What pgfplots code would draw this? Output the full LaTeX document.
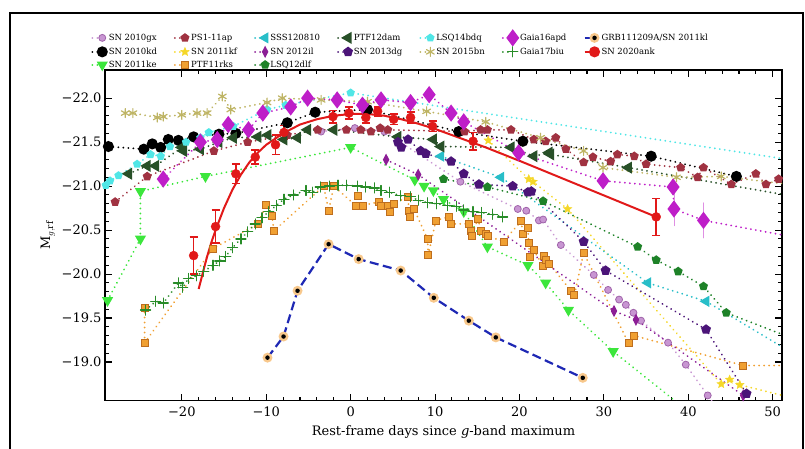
\documentclass[border=0pt]{standalone}
\usepackage{fontspec}
\setmainfont{DejaVu Serif}
\usepackage{pgfplots}
\pgfplotsset{compat=1.18}
\usetikzlibrary{plotmarks}

\definecolor{cgx}{RGB}{200,150,210}
\definecolor{cgxd}{RGB}{160,100,170}
\definecolor{ckd}{RGB}{0,0,0}
\definecolor{cke}{RGB}{60,230,60}
\definecolor{cap}{RGB}{160,50,65}
\definecolor{ckf}{RGB}{245,215,40}
\definecolor{crks}{RGB}{240,160,50}
\definecolor{crksd}{RGB}{190,110,30}
\definecolor{csss}{RGB}{40,190,200}
\definecolor{cil}{RGB}{140,30,150}
\definecolor{cdlf}{RGB}{30,130,40}
\definecolor{cdam}{RGB}{40,80,40}
\definecolor{cdg}{RGB}{75,20,120}
\definecolor{cbdq}{RGB}{80,230,230}
\definecolor{cbn}{RGB}{190,180,100}
\definecolor{capd}{RGB}{190,30,200}
\definecolor{cbiu}{RGB}{40,140,40}
\definecolor{cgrb}{RGB}{30,40,180}
\definecolor{cglow}{RGB}{248,200,140}
\definecolor{cank}{RGB}{225,25,25}

\pgfdeclareplotmark{fstar}{%
 \pgfpathmoveto{\pgfpointpolar{90}{\pgfplotmarksize}}%
 \pgfpathlineto{\pgfpointpolar{126}{0.45\pgfplotmarksize}}%
 \pgfpathlineto{\pgfpointpolar{162}{\pgfplotmarksize}}%
 \pgfpathlineto{\pgfpointpolar{198}{0.45\pgfplotmarksize}}%
 \pgfpathlineto{\pgfpointpolar{234}{\pgfplotmarksize}}%
 \pgfpathlineto{\pgfpointpolar{270}{0.45\pgfplotmarksize}}%
 \pgfpathlineto{\pgfpointpolar{306}{\pgfplotmarksize}}%
 \pgfpathlineto{\pgfpointpolar{342}{0.45\pgfplotmarksize}}%
 \pgfpathlineto{\pgfpointpolar{18}{\pgfplotmarksize}}%
 \pgfpathlineto{\pgfpointpolar{54}{0.45\pgfplotmarksize}}%
 \pgfpathclose\pgfusepathqfillstroke}

\pgfdeclareplotmark{grbmark}{%
 \pgfsetfillcolor{cglow}%
 \pgfpathcircle{\pgfpointorigin}{1.0\pgfplotmarksize}%
 \pgfusepathqfill
 \pgfsetfillcolor{black}%
 \pgfpathcircle{\pgfpointorigin}{0.45\pgfplotmarksize}%
 \pgfusepathqfill}

\tikzset{
 dotl/.style={line width=2pt, line cap=round, dash pattern=on 0.01pt off 5pt},
 sgx/.style={color=cgx, dotl, mark=*, mark size=3.5pt, mark options={solid, fill=cgx, draw=cgxd, line width=0.8pt}},
 skd/.style={color=ckd, dotl, mark=*, mark size=4.5pt, mark options={solid, fill=black}},
 ske/.style={color=cke, dotl, mark=triangle*, mark size=4.5pt, mark options={solid, rotate=180, fill=cke}},
 sap/.style={color=cap, dotl, mark=pentagon*, mark size=3.5pt, mark options={solid, fill=cap}},
 skf/.style={color=ckf, dotl, mark=fstar, mark size=4.5pt, mark options={solid, fill=ckf, line width=0.4pt}},
 srks/.style={color=crks, dotl, mark=square*, mark size=3.5pt, mark options={solid, fill=crks, draw=crksd, line width=0.7pt}},
 ssss/.style={color=csss, dotl, mark=triangle*, mark size=4.5pt, mark options={solid, rotate=90, fill=csss}},
 sil/.style={color=cil, dotl, mark=diamond*, mark size=4pt, mark options={solid, fill=cil, xscale=0.7}},
 sdlf/.style={color=cdlf, dotl, mark=pentagon*, mark size=3.5pt, mark options={solid, fill=cdlf}},
 sdam/.style={color=cdam, dotl, mark=triangle*, mark size=5pt, mark options={solid, rotate=90, fill=cdam}},
 sdg/.style={color=cdg, dotl, mark=pentagon*, mark size=4pt, mark options={solid, fill=cdg}},
 sbdq/.style={color=cbdq, dotl, mark=pentagon*, mark size=3.2pt, mark options={solid, fill=cbdq}},
 sbn/.style={color=cbn, dotl, mark=asterisk, mark size=4.5pt, mark options={solid, line width=1.2pt}},
 sapd/.style={color=capd, dotl, mark=diamond*, mark size=7pt, mark options={solid, fill=capd}},
 sbiu/.style={color=cbiu, dotl, mark=+, mark size=5pt, mark options={solid, line width=1.3pt}},
 sgrb/.style={color=cgrb, line width=2.2pt, dash pattern=on 9pt off 4.5pt, mark=grbmark, mark size=5pt, mark options={solid}},
 sank/.style={color=cank, line width=2pt, mark=*, mark size=4.5pt, mark options={solid, fill=cank}},
}

\begin{document}
\begin{tikzpicture}
\useasboundingbox (-105pt,-47.3pt) rectangle (700pt,400.7pt);
\begin{axis}[
 at={(0pt,0pt)}, anchor=south west,
 width=677pt, height=330.7pt, scale only axis,
 xmin=-29.1, xmax=51.1, ymin=-22.32, ymax=-18.56, y dir=reverse,
 xtick={-20,-10,0,10,20,30,40,50},
 xticklabels={−20,−10,0,10,20,30,40,50},
 ytick={-22,-21.5,-21,-20.5,-20,-19.5,-19},
 yticklabels={−22.0,−21.5,−21.0,−20.5,−20.0,−19.5,−19.0},
 minor x tick num=4, minor y tick num=4,
 tick align=inside,
 major tick length=7pt, minor tick length=4pt,
 every tick/.style={black, line width=1.1pt},
 axis line style={line width=1.5pt},
 tick label style={font=\fontsize{13}{15}\selectfont},
 xticklabel style={yshift=-3pt},
 label style={font=\fontsize{13}{15}\selectfont},
 xlabel={Rest-frame days since \textit{g}-band maximum},
 ylabel={M$_{g,\mathrm{rf}}$},
 xlabel style={yshift=-2pt},
 legend style={at={(-0.025,1.125)}, anchor=north west, draw=none, fill=none,
   font=\fontsize{8.5}{10}\selectfont,
   /tikz/every even column/.append style={column sep=15pt}, row sep=1pt},
 legend cell align=left, transpose legend, legend columns=3,
 legend image code/.code={\draw[mark repeat=2,mark phase=2,#1] plot coordinates {(0pt,0pt) (10pt,0pt)};},
]
% SN 2010gx
\addplot[sgx, forget plot] coordinates {(-3.5,-21.62) (0.5,-21.66) (4,-21.62) (13,-21.05) (19.8,-20.74) (20.8,-20.72) (22.3,-20.61) (22.8,-20.62) (24.9,-20.33) (28.8,-19.99) (30.5,-19.82) (31.8,-19.71) (32.6,-19.65) (33.5,-19.56) (34.4,-19.47) (37.6,-19.22) (39.7,-18.97) (42.3,-18.62) (44,-18.4)};
% SN 2010kd
\addplot[skd, forget plot] coordinates {(-28.7,-21.45) (-24.5,-21.42) (-23.5,-21.48) (-22.5,-21.44) (-21.6,-21.53) (-20.4,-21.52) (-18.6,-21.56) (-15.6,-21.59) (-13.6,-21.60) (-7.5,-21.72) (-4.2,-21.84) (2,-21.87) (12.8,-21.62) (20.4,-21.51) (35.6,-21.34) (45.7,-21.11)};
% SN 2011ke
\addplot[ske, forget plot] coordinates {(-28.8,-19.70) (-24.9,-20.40) (-24.9,-20.94) (-17.2,-21.11) (0.0,-21.44) (7.6,-21.07) (8.7,-21.0) (9.8,-20.95) (11.0,-20.85) (13.4,-20.71) (16.2,-20.31) (21.0,-20.10) (23.1,-19.90) (25.8,-19.59) (31.1,-19.12) (40.5,-18.40)};
% PS1-11ap
\addplot[sap, forget plot] coordinates {(-27.9,-20.82) (-24.1,-21.11) (-16.2,-21.40) (-12.2,-21.50) (-7.5,-21.58) (-3.9,-21.64) (-0.5,-21.64) (1.2,-21.64) (2.4,-21.62) (3.5,-21.66) (4.4,-21.64) (13.5,-21.62) (15.4,-21.64) (16.2,-21.64) (19,-21.64) (21.7,-21.53) (23.1,-21.51) (24.3,-21.55) (25.5,-21.42) (27.6,-21.27) (28.7,-21.33) (30.8,-21.28) (31.6,-21.36) (33.6,-21.34) (35,-21.25) (39.1,-21.21) (41.1,-21.10) (41.8,-21.21) (45.1,-21.02) (48,-21.14) (49.2,-21.02) (50.7,-21.08)};
% SN 2011kf
\addplot[skf, forget plot] coordinates {(16.3,-21.52) (21.1,-21.08) (21.6,-21.05) (25.7,-20.74) (43.9,-18.75) (44.9,-18.80) (46.1,-18.74) (52,-18.6)};
% PTF11rks
\addplot[srks, forget plot] coordinates {(-24.4,-19.62) (-24.4,-19.22) (-16.3,-20.29) (-11.0,-20.57) (-10.0,-20.79) (-9.3,-20.66) (-9.1,-20.49) (-3.2,-21.00) (-2.6,-20.72) (-2.0,-21.00) (0.6,-20.78) (0.8,-20.89) (1.4,-20.78) (3.3,-20.82) (3.6,-20.77) (4.4,-20.78) (4.7,-20.71) (5.1,-20.80) (6.8,-20.88) (6.9,-20.72) (7.0,-20.65) (7.5,-20.74) (9.1,-20.40) (9.2,-20.22) (10.1,-20.61) (11.6,-20.65) (11.9,-20.57) (14.0,-20.57) (14.2,-20.49) (14.3,-20.43) (15.1,-20.63) (15.4,-20.49) (16.0,-20.46) (16.3,-20.43) (18.1,-20.37) (20.2,-20.60) (20.4,-20.46) (21.0,-20.52) (21.1,-20.35) (21.2,-20.20) (21.7,-20.27) (22.8,-20.09) (22.9,-20.21) (23.1,-20.16) (23.5,-20.12) (26.1,-19.81) (26.5,-19.76) (27.6,-20.24) (32.9,-19.22) (33.6,-19.30) (46.5,-18.96) (52,-18.96)};
% SSS120810
\addplot[ssss, forget plot] coordinates {(10.7,-21.34) (17.8,-21.10) (35.2,-19.90) (42.1,-19.69) (51.5,-19.15)};
% SN 2012il
\addplot[sil, forget plot] coordinates {(4.2,-21.30) (8.0,-21.13) (31.2,-19.58) (33.8,-19.48) (46.5,-18.62)};
% LSQ12dlf
\addplot[sdlf, forget plot] coordinates {(11.0,-21.08) (16.2,-20.99) (22.8,-20.83) (34.0,-20.31) (36.2,-20.16) (38.8,-20.03) (41.8,-19.86) (44.5,-19.56) (51.5,-19.30)};
% PTF12dam
\addplot[sdam, forget plot] coordinates {(-26.3,-21.14) (-24.1,-21.23) (-23.1,-21.23) (-20.0,-21.44) (-19.8,-21.40) (-17.8,-21.42) (-15.6,-21.50) (-13.9,-21.55) (-11.0,-21.56) (-9.8,-21.58) (-7.9,-21.53) (-6.3,-21.55) (-5.1,-21.64) (-2.0,-21.64) (5.6,-21.56) (9.8,-21.53) (10.7,-21.45) (19.0,-21.44) (21.7,-21.34) (23.5,-21.38) (23.7,-21.36) (32.9,-21.21) (51.5,-20.90)};
% SN 2013dg
\addplot[sdg, forget plot] coordinates {(5.6,-21.50) (6.0,-21.44) (6.8,-21.53) (8.3,-21.40) (8.9,-21.37) (11.9,-21.28) (13.4,-21.14) (15.2,-21.02) (19.2,-21.00) (21.0,-20.93) (21.4,-20.94) (27.6,-20.37) (30.2,-20.04) (42.1,-19.37) (46.9,-18.64)};
% LSQ14bdq
\addplot[sbdq, forget plot] coordinates {(-29.0,-21.01) (-28.5,-21.06) (-27.5,-21.12) (-25.3,-21.25) (-23.7,-21.36) (-22.5,-21.34) (-21.4,-21.45) (-19.5,-21.50) (-17.8,-21.55) (-16.8,-21.61) (-13.9,-21.68) (-9.9,-21.87) (-7.7,-21.92) (0,-22.06) (52,-21.30)};
% SN 2015bn
\addplot[sbn, forget plot] coordinates {(-26.7,-21.83) (-25.8,-21.83) (-22.9,-21.78) (-22.2,-21.79) (-20.0,-21.81) (-18.2,-21.83) (-17.0,-21.83) (-15.2,-22.02) (-14.2,-21.87) (-9.9,-21.95) (-8.1,-22.00) (-3.5,-21.98) (2.0,-21.96) (9.0,-21.85) (16.0,-21.73) (22.5,-21.55) (27.6,-21.40) (29.9,-21.21) (38.6,-21.10) (43.9,-21.11) (52,-21.02)};
% Gaia16apd
\addplot[sapd, forget plot, error bars/.cd, y dir=both, y explicit, error mark=none, error bar style={solid, line width=0.8pt, capd!50}] coordinates {(-22.2,-21.08)+-(0,0.05) (-17.8,-21.50)+-(0,0.04) (-15.8,-21.53)+-(0,0.04) (-14.5,-21.70)+-(0,0.04) (-12.1,-21.64)+-(0,0.04) (-10.4,-21.83)+-(0,0.04) (-7.1,-21.90)+-(0,0.04) (-5.1,-22.00)+-(0,0.04) (-1.6,-21.98)+-(0,0.04) (1.4,-21.92)+-(0,0.04) (3.6,-21.98)+-(0,0.04) (7.1,-21.95)+-(0,0.04) (9.3,-22.04)+-(0,0.04) (11.9,-21.83)+-(0,0.05) (13.4,-21.73)+-(0,0.05) (19.9,-21.38)+-(0,0.06) (29.9,-21.06)+-(0,0.06) (38.2,-20.99)+-(0,0.08) (38.3,-20.74)+-(0,0.19) (41.8,-20.61)+-(0,0.2) (52,-20.43)+-(0,0)};
% Gaia17biu
\addplot[sbiu, forget plot] coordinates {(-24.3,-19.59) (-23.1,-19.69) (-22.2,-19.67) (-20.4,-19.90) (-19.9,-19.85) (-19.2,-19.95) (-18.3,-19.98) (-17.4,-20.03) (-16.3,-20.10) (-15.5,-20.15) (-14.8,-20.20) (-14.0,-20.30) (-13.0,-20.40) (-12.2,-20.48) (-11.3,-20.57) (-10.5,-20.64) (-9.7,-20.71) (-8.8,-20.78) (-7.9,-20.85) (-6.8,-20.90) (-5.3,-20.95) (-4.5,-20.93) (-3.6,-20.99) (-2.5,-21.00) (-1.5,-21.01) (-0.5,-21.01) (0.8,-21.00) (1.8,-20.99) (2.8,-20.98) (3.6,-20.95) (4.6,-20.93) (5.9,-20.89) (7.1,-20.88) (8.0,-20.84) (9.1,-20.81) (10.2,-20.80) (11.5,-20.78) (12.5,-20.77) (13.4,-20.73) (14.5,-20.71) (15.5,-20.70) (16.8,-20.68) (18.0,-20.65)};
% GRB111209A/SN 2011kl
\addplot[sgrb, forget plot] coordinates {(-9.85,-19.05) (-7.95,-19.29) (-6.29,-19.81) (-2.61,-20.34) (0.95,-20.17) (5.93,-20.04) (9.85,-19.73) (14.0,-19.47) (17.2,-19.28) (27.5,-18.82)};
% SN 2020ank fit
\addplot[color=cank, line width=2pt, forget plot] coordinates {(-18.0,-19.83) (-17.5,-20.02) (-17.0,-20.20) (-16.5,-20.36) (-16.0,-20.50) (-15.0,-20.75) (-14.0,-20.96) (-13.0,-21.13) (-12.0,-21.27) (-11.0,-21.38) (-10.0,-21.47) (-8.0,-21.60) (-6.0,-21.70) (-4.0,-21.76) (-2.0,-21.80) (0.0,-21.82) (2.0,-21.82) (4.0,-21.80) (6.0,-21.76) (8.0,-21.71) (10.0,-21.65) (12.0,-21.58) (14.0,-21.51) (16.0,-21.44) (20.2,-21.28) (36.2,-20.65)};
% SN 2020ank data
\addplot[only marks, mark=*, mark size=4.5pt, color=cank, mark options={fill=cank}, forget plot, error bars/.cd, y dir=both, y explicit, error bar style={line width=1.6pt, cank}, error mark options={line width=1.6pt, cank, mark size=4pt, rotate=90}] coordinates {(-18.6,-20.21)+-(0,0.21) (-16.0,-20.54)+-(0,0.19) (-13.6,-21.14)+-(0,0.11) (-11.3,-21.33)+-(0,0.08) (-8.9,-21.47)+-(0,0.11) (-7.9,-21.61)+-(0,0.08) (-2.1,-21.79)+-(0,0.07) (-0.2,-21.83)+-(0,0.07) (1.8,-21.78)+-(0,0.06) (3.2,-21.85)+-(0,0.05) (5.1,-21.76)+-(0,0.06) (7.1,-21.78)+-(0,0.06) (9.7,-21.68)+-(0,0.06) (14.5,-21.51)+-(0,0.1) (36.2,-20.65)+-(0,0.21)};
% legend
\addlegendimage{sgx}\addlegendentry{SN 2010gx}
\addlegendimage{skd}\addlegendentry{SN 2010kd}
\addlegendimage{ske}\addlegendentry{SN 2011ke}
\addlegendimage{sap}\addlegendentry{PS1-11ap}
\addlegendimage{skf}\addlegendentry{SN 2011kf}
\addlegendimage{srks}\addlegendentry{PTF11rks}
\addlegendimage{ssss}\addlegendentry{SSS120810}
\addlegendimage{sil}\addlegendentry{SN 2012il}
\addlegendimage{sdlf}\addlegendentry{LSQ12dlf}
\addlegendimage{sdam}\addlegendentry{PTF12dam}
\addlegendimage{sdg}\addlegendentry{SN 2013dg}
\addlegendimage{empty legend}\addlegendentry{}
\addlegendimage{sbdq}\addlegendentry{LSQ14bdq}
\addlegendimage{sbn}\addlegendentry{SN 2015bn}
\addlegendimage{empty legend}\addlegendentry{}
\addlegendimage{sapd}\addlegendentry{Gaia16apd}
\addlegendimage{sbiu}\addlegendentry{Gaia17biu}
\addlegendimage{empty legend}\addlegendentry{}
\addlegendimage{sgrb}\addlegendentry{GRB111209A/SN 2011kl}
\addlegendimage{sank}\addlegendentry{SN 2020ank}
\end{axis}
\draw[line width=2.5pt] (-95pt,-80pt) rectangle (698pt,387.7pt);
\end{tikzpicture}
\end{document}
